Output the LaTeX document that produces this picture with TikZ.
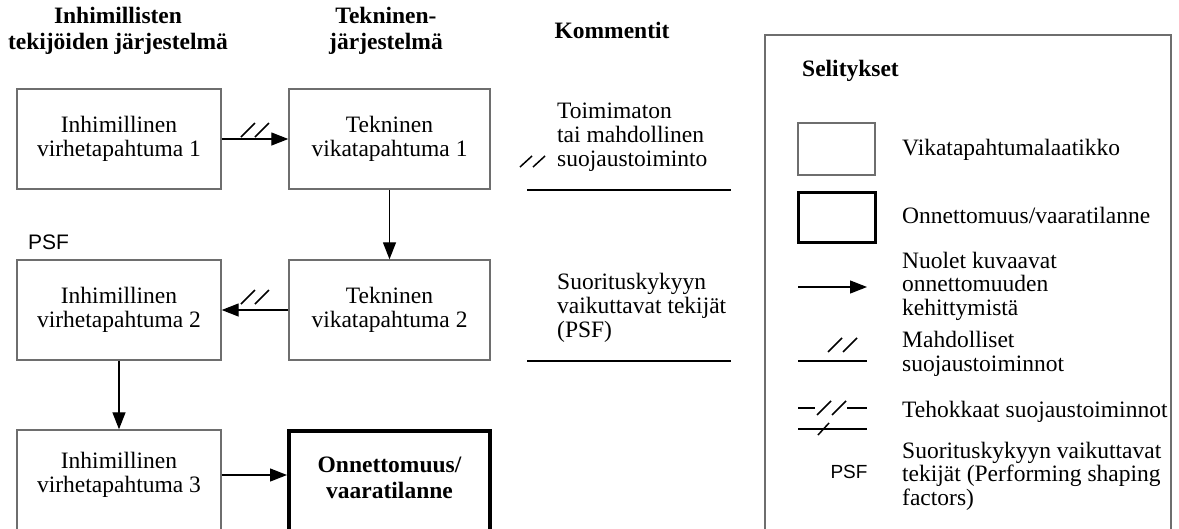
\documentclass[tikz,border=0pt]{standalone}
\usepackage{fontspec}
\setmainfont{Liberation Serif}
\newfontfamily\psffont{Liberation Sans}
\usetikzlibrary{arrows.meta}
\definecolor{boxgray}{RGB}{110,110,110}
\begin{document}
\begin{tikzpicture}[x=1pt,y=-1pt,
  txt/.style={font=\fontsize{23.5}{24}\selectfont, align=center, inner sep=0pt},
  hdr/.style={font=\fontsize{23.5}{25.5}\selectfont\bfseries, align=center, inner sep=0pt},
  eventbox/.style={draw=boxgray, line width=1.4pt, minimum height=100pt, inner sep=0pt,
    font=\fontsize{23.5}{24}\selectfont, align=center},
  accbox/.style={draw=black, line width=4pt, minimum width=201pt, minimum height=140pt, inner sep=0pt},
  flow/.style={line width=1.3pt, -{Triangle[length=17pt,width=13pt]}},
  slash/.style={line width=1.5pt},
  rule/.style={line width=1.4pt},
  lgtext/.style={font=\fontsize{23.5}{23.5}\selectfont, align=left, anchor=west, inner sep=0pt},
  psf/.style={font=\psffont\fontsize{21}{24}\selectfont, inner sep=0pt}]
\useasboundingbox (0,0) rectangle (1179,528);
\clip (0,0) rectangle (1179,528);

% column headings
\node[hdr] (hdrh) at (118,31) {Inhimillisten\\tekijöiden järjestelmä};
\node[hdr] (hdrt) at (386,31) {Tekninen-\\järjestelmä};
\node[hdr] (hdrk) at (612,30) {Kommentit};

% event boxes
\node[eventbox, minimum width=204pt] (h1) at (119,139) {Inhimillinen\\virhetapahtuma 1};
\node[eventbox, minimum width=201pt] (t1) at (389.5,139) {Tekninen\\vikatapahtuma 1};
\node[eventbox, minimum width=204pt] (h2) at (119,310) {Inhimillinen\\virhetapahtuma 2};
\node[eventbox, minimum width=201pt] (t2) at (389.5,310) {Tekninen\\vikatapahtuma 2};
\node[eventbox, minimum width=204pt, minimum height=140pt] (h3) at (119,500) {};
\node[txt] (h3t) at (119,475) {Inhimillinen\\virhetapahtuma 3};
\node[accbox] (acc) at (389.5,500.5) {};
\node[hdr] (acct) at (389.5,478) {Onnettomuus/\\vaaratilanne};
\node[psf, anchor=west] (psf1) at (28,242) {PSF};

% event flow
\draw[flow] (h1.east) -- (t1.west);
\draw[flow] (t1.south) -- (t2.north);
\draw[flow] (t2.west) -- (h2.east);
\draw[flow] (h2.south) -- (h3.north);
\draw[flow] (h3t -| h3.east) -- (h3t -| acc.west);

% possible protective functions
\draw[slash] (241,137) -- (255,123) (255,137) -- (269,123);
\draw[slash] (241,304) -- (255,290) (255,304) -- (269,290);

% comments column
\node[txt, anchor=west, align=left] (c1) at (557,137) {Toimimaton\\tai mahdollinen\\suojaustoiminto};
\draw[slash] (520,167) -- (532,156) (533,167) -- (545,156);
\draw[rule] (527,190) -- (731,190);
\node[txt, anchor=west, align=left] (c2) at (557,308) {Suorituskykyyn\\vaikuttavat tekijät\\(PSF)};
\draw[rule] (527,361) -- (731,361);

% legend
\draw[draw=boxgray, line width=1.4pt] (765,35) rectangle (1171,580);
\node[hdr, anchor=west] (lgh) at (802,71) {Selitykset};
\draw[draw=boxgray, line width=1.4pt] (798,123) rectangle (875,175);
\node[lgtext] (lg1) at (902,150) {Vikatapahtumalaatikko};
\draw[line width=3pt] (798,192) rectangle (875,242);
\node[lgtext] (lg2) at (902,215) {Onnettomuus/vaaratilanne};
\coordinate (la) at (798,287);
\coordinate (lb) at (867,287);
\draw[flow] (la) -- (lb);
\node[lgtext] (lg3) at (902,286) {Nuolet kuvaavat\\onnettomuuden\\kehittymistä};
\draw[rule] (798,361) -- (867,361);
\draw[slash] (828,352) -- (842,338) (843,352) -- (857,338);
\node[lgtext] (lg4) at (902,354) {Mahdolliset\\suojaustoiminnot};
\draw[rule] (798,408) -- (815,408) (847,408) -- (867,408);
\draw[slash] (817,415) -- (831,401) (832,415) -- (846,401);
\draw[rule] (798,429) -- (867,429);
\draw[slash] (818,435) -- (829,423);
\node[lgtext] (lg5) at (902,412) {Tehokkaat suojaustoiminnot};
\node[psf, font=\psffont\fontsize{19}{22}\selectfont] (psf2) at (849,472) {PSF};
\node[lgtext] (lg6) at (902,476) {Suorituskykyyn vaikuttavat\\tekijät (Performing shaping\\factors)};
\end{tikzpicture}
\end{document}
